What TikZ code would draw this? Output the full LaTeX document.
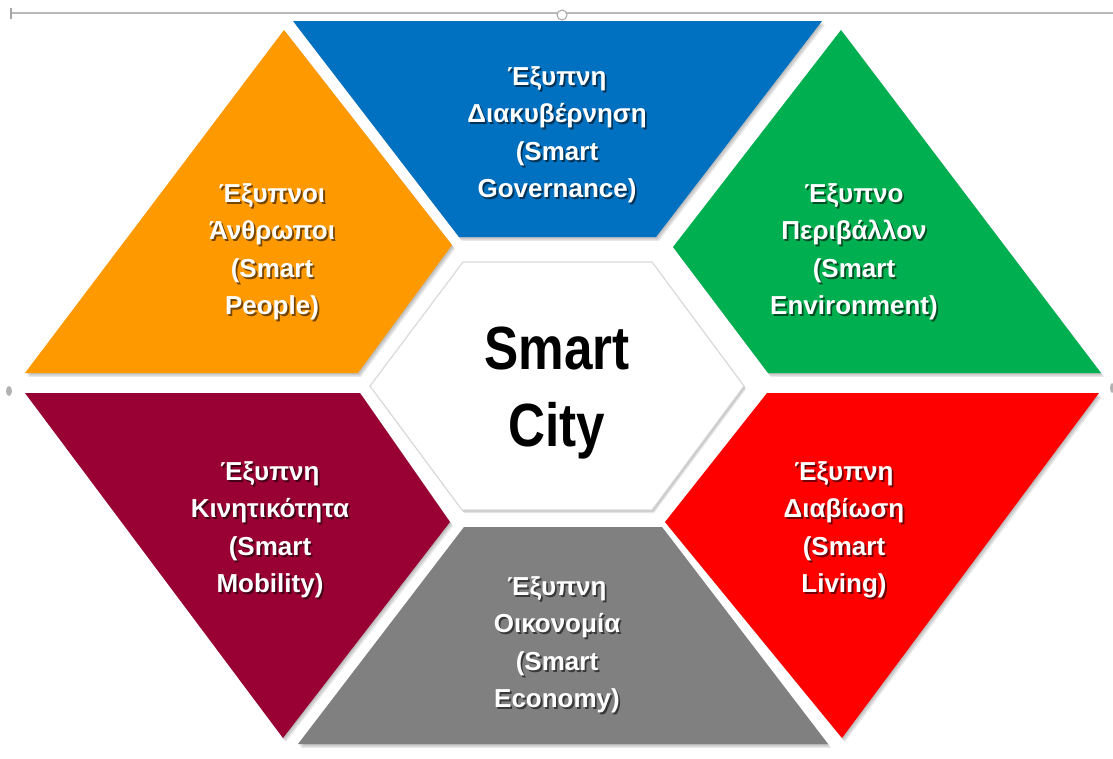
\documentclass[tikz,border=0pt]{standalone}
\usepackage{fontspec}
\usepackage{graphicx}
\setmainfont{Liberation Sans}
\definecolor{cblue}{HTML}{0070C0}
\definecolor{corange}{HTML}{FF9900}
\definecolor{cgreen}{HTML}{00B050}
\definecolor{cmaroon}{HTML}{990033}
\definecolor{cred}{HTML}{FF0000}
\definecolor{cgray}{HTML}{808080}
\newcommand{\polyBlue}{(293,21) -- (822,21) -- (656,237) -- (459,237) -- cycle}
\newcommand{\polyOrange}{(284,30) -- (452,245) -- (358,373) -- (25,373) -- cycle}
\newcommand{\polyGreen}{(841,30) -- (1101,373) -- (768,373) -- (673,247) -- cycle}
\newcommand{\polyMaroon}{(25,393) -- (360,393) -- (450,522) -- (283,738) -- cycle}
\newcommand{\polyRed}{(767,393) -- (1099,393) -- (842,738) -- (665,522) -- cycle}
\newcommand{\polyGray}{(464,527) -- (662,527) -- (828,744) -- (298,744) -- cycle}
\newcommand{\polyHex}{(463,262) -- (652,262) -- (744,386) -- (652,510) -- (462,510) -- (370,386) -- cycle}
\newcommand{\sx}[1]{\scalebox{0.84}[1]{#1}}
\tikzset{
  lbl/.style={font=\fontsize{26}{37.5}\selectfont\bfseries, align=center, text=white, inner sep=0pt},
  lblshadow/.style={lbl, text=black, text opacity=0.55, xshift=1.8pt, yshift=-1.8pt},
  piece/.style={draw=none},
  softshadow/.style={fill=black, opacity=0.09},
}
\newcommand{\shapewithshadow}[2]{%
  \foreach \s in {1,2,3} {\fill[softshadow, shift={(\s,1.3*\s)}] #1;}
  \fill[piece, #2] #1;}
\newcommand{\plabel}[4]{%
  \node[lblshadow] (#1s) at (#2,#3) {#4};
  \node[lbl] (#1) at (#2,#3) {#4};}
\begin{document}
\begin{tikzpicture}[x=1pt, y=-1pt]
\useasboundingbox (0,0) rectangle (1113,758);
\fill[white] (0,0) rectangle (1113,758);
% selection frame marks
\draw[gray!55, line width=1.5pt] (12,13) -- (1113,13);
\draw[gray!70, line width=2pt] (11,8) -- (11,19);
\draw[gray!70, line width=1pt, fill=white] (562,15) circle[radius=5pt];
\fill[gray!60] (9,391) ellipse [x radius=3pt, y radius=5pt];
\fill[gray!60] (1112,388) ellipse [x radius=2pt, y radius=5pt];
% pieces
\shapewithshadow{\polyBlue}{cblue}
\shapewithshadow{\polyOrange}{corange}
\shapewithshadow{\polyGreen}{cgreen}
\shapewithshadow{\polyMaroon}{cmaroon}
\shapewithshadow{\polyRed}{cred}
\shapewithshadow{\polyGray}{cgray}
% center hexagon
\foreach \s in {1,2,3} {\fill[softshadow, shift={(0.7*\s,\s)}] \polyHex;}
\fill[white, draw=gray!30, line width=1.2pt] \polyHex;
\node[font=\fontsize{61}{77}\selectfont\bfseries, align=center, inner sep=0pt] (center) at (557,393) {\sx{Smart}\\\sx{City}};
% labels
\plabel{gov}{557}{135}{Έξυπνη\\Διακυβέρνηση\\(Smart\\Governance)}
\plabel{people}{272}{252}{Έξυπνοι\\Άνθρωποι\\(Smart\\People)}
\plabel{env}{854}{252}{Έξυπνο\\Περιβάλλον\\(Smart\\Environment)}
\plabel{mob}{270}{530}{Έξυπνη\\Κινητικότητα\\(Smart\\Mobility)}
\plabel{liv}{844}{530}{Έξυπνη\\Διαβίωση\\(Smart\\Living)}
\plabel{eco}{557}{645}{Έξυπνη\\Οικονομία\\(Smart\\Economy)}
\end{tikzpicture}
\end{document}
